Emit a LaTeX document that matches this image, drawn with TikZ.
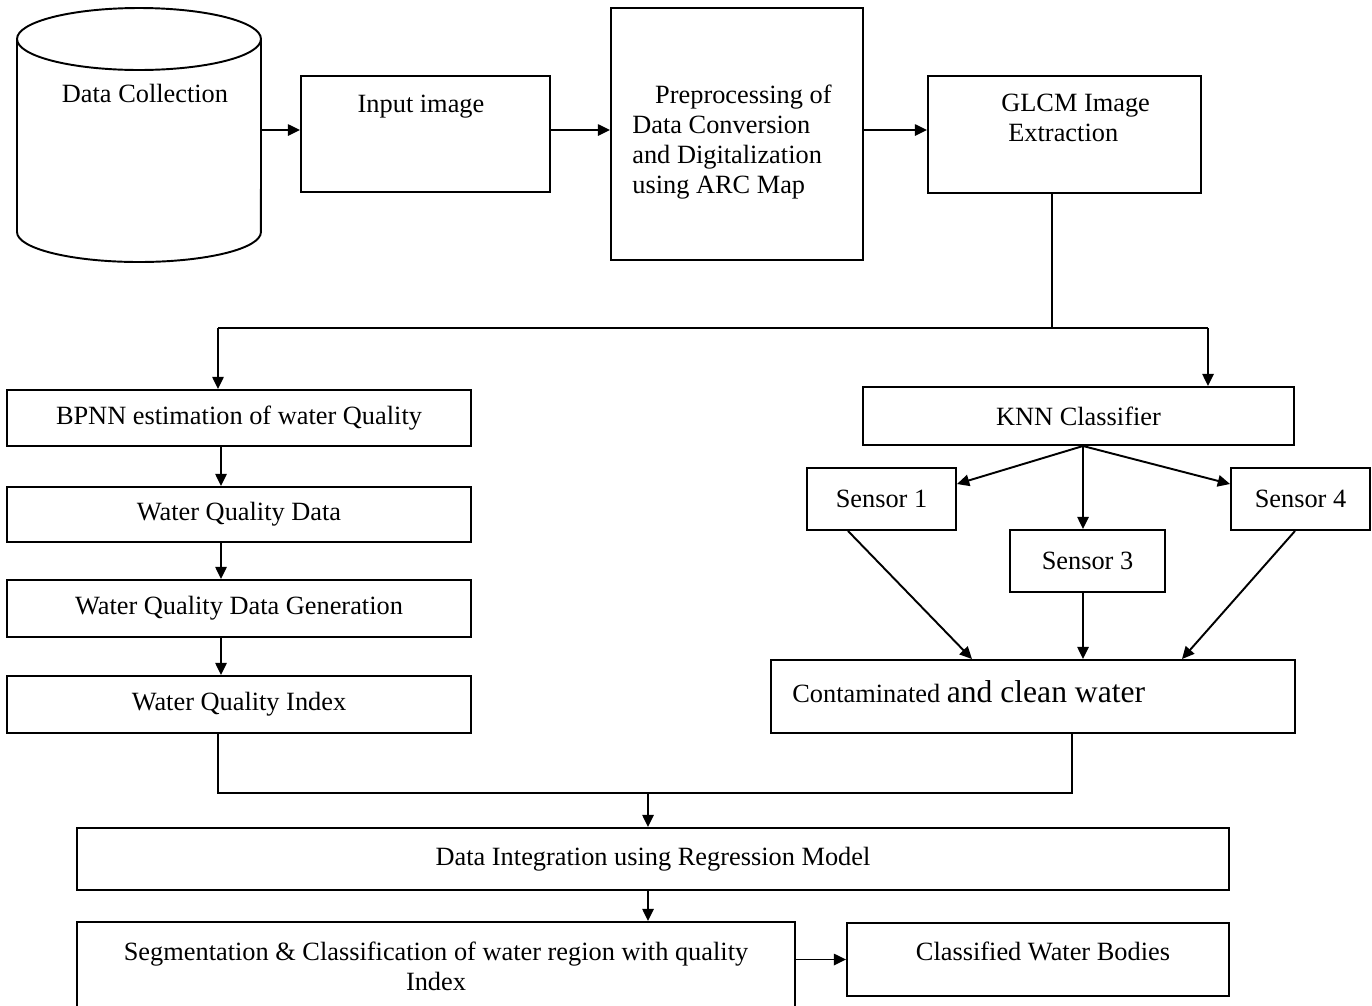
\documentclass[tikz,border=0pt]{standalone}
\usepackage{fontspec}
\setmainfont{Liberation Serif}
\usetikzlibrary{arrows.meta}

\begin{document}
\begin{tikzpicture}[x=0.02cm, y=-0.02cm,
        box/.style={draw, line width=1.1pt, inner sep=0pt, font=\fontsize{15}{17}\selectfont},
        txt/.style={inner sep=0pt, font=\fontsize{15}{17}\selectfont},
        arr/.style={line width=1.1pt, -{Triangle[length=7pt,width=6.5pt]}},
        wire/.style={line width=1.1pt}]
        \clip (0,0) rectangle (1372,1005);
        % top row
        \draw [line width=1.1pt] (17,39) -- (17,232) arc[start angle=180, end angle=360, x radius=2.44cm, y radius=0.6cm] -- (261,39);
        \draw [line width=1.1pt] (139,39) ellipse [x radius=2.44cm, y radius=0.62cm];
        \node [txt] (dc) at (145,93) {Data Collection};
        \coordinate (dcr) at (261,130);
        \node [box, minimum width=4.98cm, minimum height=2.32cm] (inp) at (425.5,134) {};
        \node [txt] (inpt) at (421,107) {Input image};
        \node [box, minimum width=5.04cm, minimum height=5.04cm] (prep) at (737,134) {};
        \node [txt, align=left, anchor=west] (prept) at (632,142) {\hspace{13pt}Preprocessing of\\Data Conversion\\and Digitalization\\using ARC Map};
        \node [box, minimum width=5.46cm, minimum height=2.34cm] (glcm) at (1064.5,134.5) {};
        \node [txt, align=left, anchor=west] (glcmt) at (1001,118) {GLCM Image\\\hspace{4pt}Extraction};
        \draw [arr] (dcr) -- (dcr -| inp.west);
        \draw [arr] (inp.east |- dcr) -- (dcr -| prep.west);
        \draw [arr] (prep.east |- dcr) -- (dcr -| glcm.west);
        % split
        \coordinate (bus) at (1052,328);
        \coordinate (busl) at (218,328);
        \coordinate (busr) at (1208,328);
        \draw [line width=0.7pt] (bus |- glcm.south) -- (bus);
        \draw [wire] (busl) -- (busr);
        % left column
        \node [box, minimum width=9.28cm, minimum height=1.12cm] (bpnn) at (239,418) {BPNN estimation of water Quality};
        \node [box, minimum width=9.28cm, minimum height=1.1cm] (wqd) at (239,514.5) {Water Quality Data};
        \node [box, minimum width=9.28cm, minimum height=1.14cm] (wqg) at (239,608.5) {Water Quality Data Generation};
        \node [box, minimum width=9.28cm, minimum height=1.14cm] (wqi) at (239,704.5) {Water Quality Index};
        \draw [arr] (busl) -- (busl |- bpnn.north);
        \draw [arr] ([xshift=-0.36cm]bpnn.south) -- ([xshift=-0.36cm]wqd.north);
        \draw [arr] ([xshift=-0.36cm]wqd.south) -- ([xshift=-0.36cm]wqg.north);
        \draw [arr] ([xshift=-0.36cm]wqg.south) -- ([xshift=-0.36cm]wqi.north);
        % right column
        \node [box, minimum width=8.62cm, minimum height=1.16cm] (knn) at (1078.5,416) {KNN Classifier};
        \node [box, minimum width=2.98cm, minimum height=1.24cm] (s1) at (881.5,499) {Sensor 1};
        \node [box, minimum width=2.78cm, minimum height=1.24cm] (s4) at (1300.5,499) {Sensor 4};
        \node [box, minimum width=3.1cm, minimum height=1.24cm] (s3) at (1087.5,561) {Sensor 3};
        \node [box, minimum width=10.48cm, minimum height=1.46cm] (cont) at (1033,696.5) {};
        \node [txt, anchor=west] (contt) at (792,692) {Contaminated {\fontsize{18}{20}\selectfont and clean water}};
        \coordinate (fork) at (1083,446);
        \draw [arr] (busr) -- (busr |- knn.north);
        \draw [arr] (fork) -- ([yshift=0.3cm]s1.east);
        \draw [arr] (fork) -- ([yshift=0.3cm]s4.west);
        \draw [arr] (fork) -- (fork |- s3.north);
        \draw [arr] ([xshift=-0.67cm]s1.south) -- ([xshift=-1.22cm]cont.north);
        \draw [arr] (fork |- s3.south) -- (fork |- cont.north);
        \draw [arr] ([xshift=-0.11cm]s4.south) -- ([xshift=2.98cm]cont.north);
        % merge and bottom
        \coordinate (mergel) at (218,793);
        \coordinate (merger) at (1072,793);
        \coordinate (mergem) at (648,793);
        \draw [wire] (mergel |- wqi.south) -- (mergel) -- (merger) -- (merger |- cont.south);
        \node [box, minimum width=23.04cm, minimum height=1.24cm] (integ) at (653,859) {Data Integration using Regression Model};
        \node [box, minimum width=14.36cm, minimum height=1.76cm, align=center] (seg) at (436,966) {Segmentation \& Classification of water region with quality\\Index};
        \node [box, minimum width=7.64cm, minimum height=1.46cm] (cls) at (1038,959.5) {};
        \node [txt] (clst) at (1043,951) {Classified Water Bodies};
        \draw [arr] (mergem) -- (mergem |- integ.north);
        \draw [arr] (mergem |- integ.south) -- (mergem |- seg.north);
        \draw [arr] (seg.east |- cls.west) -- (cls.west);
\end{tikzpicture}
\end{document}
